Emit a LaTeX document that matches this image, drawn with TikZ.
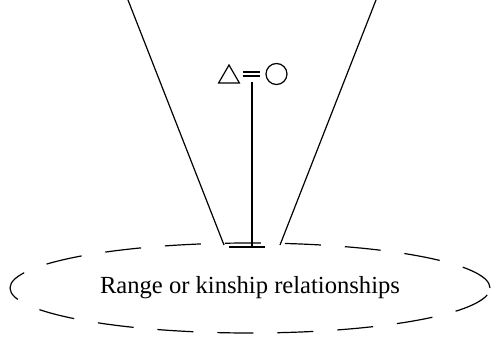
\documentclass[tikz,border=0pt]{standalone}
\usepackage{fontspec}
\setmainfont{Liberation Serif}
\usetikzlibrary{shapes.geometric}

\begin{document}
\begin{tikzpicture}[x=0.5pt, y=-0.5pt, line width=0.6pt,
    kin/.style={draw, inner sep=0pt},
    field/.style={draw, ellipse, dash pattern=on 18pt off 12pt, minimum width=240pt, minimum height=45pt, font=\fontsize{12.3}{14}\selectfont}]
  \useasboundingbox (0,0) rectangle (492,342);
  % range of relationships
  \node[field] (range) at (250,288) {\raisebox{-1pt}{Range or kinship relationships}};
  % the couple at the top
  \node[kin, regular polygon, regular polygon sides=3, minimum size=12pt] (man) at (229,77) {};
  \node[kin, circle, minimum size=10.5pt] (woman) at (276.5,74) {};
  \coordinate (eqL) at (243,74);
  \coordinate (eqR) at (260,74);
  \draw ([yshift=1pt]eqL) -- ([yshift=1pt]eqR);
  \draw ([yshift=-1pt]eqL) -- ([yshift=-1pt]eqR);
  % line of descent
  \coordinate (desc) at (252,82);
  \coordinate (base) at (252,247);
  \coordinate (baseL) at (229,247);
  \coordinate (baseR) at (265,247);
  \draw (desc) -- (base);
  \draw (baseL) -- (baseR);
  % the widening cone
  \coordinate (coneL) at (128,0);
  \coordinate (coneLb) at (224,245);
  \coordinate (coneR) at (376,0);
  \coordinate (coneRb) at (280,245);
  \draw (coneL) -- (coneLb);
  \draw (coneR) -- (coneRb);
\end{tikzpicture}
\end{document}
